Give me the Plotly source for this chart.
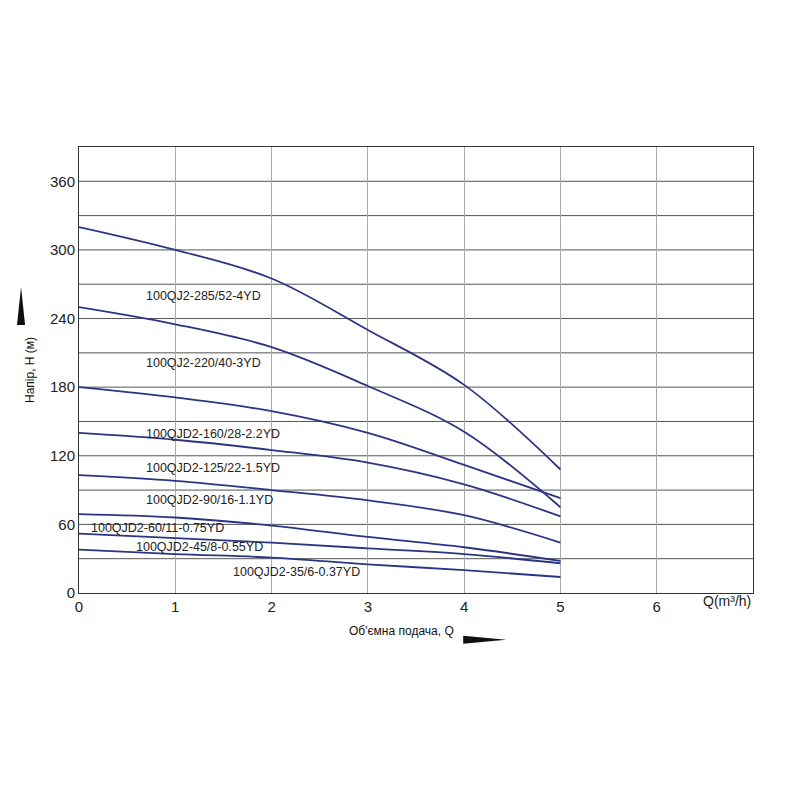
import plotly.graph_objects as go

q = [0, 1, 2, 3, 4, 5]
names = ["100QJ2-285/52-4YD", "100QJ2-220/40-3YD", "100QJD2-160/28-2.2YD", "100QJD2-125/22-1.5YD",
         "100QJD2-90/16-1.1YD", "100QJD2-60/11-0.75YD", "100QJD2-45/8-0.55YD", "100QJD2-35/6-0.37YD"]
heads = [
    [320, 300, 275, 230, 182, 108],
    [250, 235, 215, 181, 141, 75],
    [180, 171, 159, 140, 112, 83],
    [140, 134, 125, 114, 95, 67],
    [103, 98, 90, 81, 68, 44],
    [69, 66, 59, 49, 40, 28],
    [52, 48, 44, 39, 34, 26],
    [38, 34, 31, 25, 20, 14],
]
label_x = [0.67, 0.67, 0.67, 0.67, 0.67, 0.1, 0.57, 1.58]
label_y = [260, 201, 139, 109, 81, 57, 40, 18]
xticks = [0, 1, 2, 3, 4, 5, 6]
yticks = [0, 60, 120, 180, 240, 300, 360]

fig = go.Figure()
for n, h in zip(names, heads):
    fig.add_trace(go.Scatter(x=q, y=h, mode="lines", line=dict(color="#2b3584", width=1.8, shape="spline", smoothing=1.0),
                             name=n, showlegend=False))
for n, lx, ly in zip(names, label_x, label_y):
    fig.add_annotation(x=lx, y=ly, text=n, showarrow=False, xanchor="left", yanchor="middle",
                       font=dict(size=12.5, color="#222"))

fig.update_xaxes(range=[0, 7], tickvals=xticks, showgrid=True, gridcolor="#aaa", gridwidth=1,
                 showline=True, linecolor="#333", mirror=True, zeroline=False, ticks="", automargin=False,
                 tickfont=dict(size=15, color="#222"))
fig.update_yaxes(range=[0, 390], tickvals=yticks, showgrid=False, showline=True, linecolor="#333",
                 mirror=True, zeroline=False, ticks="", automargin=False, tickfont=dict(size=15, color="#222"))
for g in range(30, 390, 30):
    fig.add_shape(type="line", xref="paper", x0=0, x1=1, y0=g, y1=g, line=dict(color="#555", width=1), layer="below")

fig.add_annotation(xref="paper", yref="paper", x=1.0, y=-0.04, text="Q(m³/h)", showarrow=False,
                   xanchor="right", font=dict(size=14, color="#222"))
fig.add_annotation(xref="paper", yref="paper", x=0.478, y=-0.105, text="Об'ємна подача, Q", showarrow=False,
                   font=dict(size=12, color="#111"))
fig.add_annotation(xref="paper", yref="paper", x=-0.086, y=0.5, text="Напір, H (м)", showarrow=False,
                   textangle=-90, font=dict(size=12, color="#111"))
fig.add_shape(type="path", xref="paper", yref="paper", path="M -0.092 0.601 L -0.080 0.601 L -0.086 0.686 Z",
              fillcolor="#111", line=dict(width=0))
fig.add_shape(type="path", xref="paper", yref="paper", path="M 0.570 -0.096 L 0.570 -0.114 L 0.634 -0.105 Z",
              fillcolor="#111", line=dict(width=0))

fig.update_layout(width=800, height=800, margin=dict(l=71, r=55, t=139, b=215),
                  plot_bgcolor="white", paper_bgcolor="white",
                  font=dict(family="Liberation Sans, Arial, sans-serif"))
fig.write_html("out.html")
